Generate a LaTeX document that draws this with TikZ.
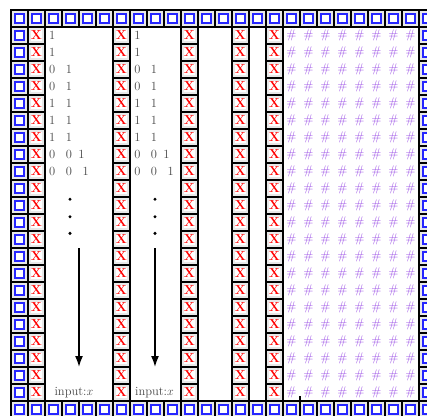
\documentclass[tikz,border=0pt]{standalone}
\usetikzlibrary{arrows.meta}
\usepackage{xcolor}
\colorlet{ringgray}{gray!18}
\colorlet{digitgray}{black!72}
\definecolor{hashpurple}{rgb}{0.6,0.3,0.9}
\definecolor{markblue}{rgb}{0.15,0.15,1}

\begin{document}
\begin{tikzpicture}[x=17pt, y=17pt,
      cell/.style   = {draw, line width=2.6pt, fill=white,
                       minimum size=17pt, inner sep=0pt, outer sep=0pt},
      ring/.style   = {cell, path picture={
                         \draw[ringgray, line width=6.2pt]
                           (path picture bounding box.south west) rectangle
                           (path picture bounding box.north east);}},
      edge/.style   = {cell, path picture={
                         \draw[ringgray, line width=6.2pt]
                           (path picture bounding box.south west) rectangle
                           (path picture bounding box.north east);
                         \draw[markblue, line width=1.4pt]
                           ([shift={(-4.4pt,-4.4pt)}]path picture bounding box.center)
                           rectangle ++(8.8pt,8.8pt);}},
      cross/.style  = {ring, text=red, font=\fontsize{13}{15}\selectfont\bfseries},
      hash/.style   = {text=hashpurple, font=\fontsize{12.5}{15}\selectfont, inner sep=0pt},
      digit/.style  = {text=digitgray, font=\fontsize{12.5}{15}\selectfont, inner sep=0pt},
      dot/.style    = {circle, fill, inner sep=0pt, minimum size=3.4pt},
      arr/.style    = {-{Latex[length=11pt, width=8pt]}, line width=1.6pt}
    ]
    \useasboundingbox (-0.647,0.588) rectangle (24.47,-23.88);

    % blank border of the tape
    \foreach \c in {0,...,24} {
      \node[edge] (top-\c) at (\c+0.5, -0.5)  {};
      \node[edge] (bot-\c) at (\c+0.5, -23.5) {};
    }
    \foreach \r in {1,...,22} {
      \node[edge] (lft-\r) at (0.5, -\r-0.5)  {};
      \node[edge] (rgt-\r) at (24.5, -\r-0.5) {};
      \foreach \c in {1,6,10,13,15}
        \node[cross] (x-\c-\r) at (\c+0.5, -\r-0.5) {X};
      \foreach \c in {16,...,23}
        \node[hash] (h-\c-\r) at (\c+0.5, -\r-0.5) {\#};
    }

    % the two input tracks
    \foreach \t in {2,7} {
      \foreach \r/\o/\s [count=\i] in {1/0.43/1, 2/0.43/1,
                 3/0.43/0, 3/1.41/1, 4/0.43/0, 4/1.41/1,
                 5/0.43/1, 5/1.41/1, 6/0.43/1, 6/1.41/1,
                 7/0.43/1, 7/1.41/1,
                 8/0.43/0, 8/1.41/0, 8/2.15/1,
                 9/0.43/0, 9/1.41/0, 9/2.40/1}
        \node[digit] (d\t-\i) at (\t+\o, -\r-0.5) {\s};
      \foreach \r [count=\i] in {11.13, 12.16, 13.14}
        \node[dot] (dot\t-\i) at (\t+1.47, -\r) {};
    }
    \node[digit] (in2) at (3.70, -22.5) {input:$x$};
    \node[digit] (in7) at (8.44, -22.5) {input:$x$};

    \coordinate (a2s) at (4.00, -14);
    \coordinate (a2e) at (4.00, -21);
    \coordinate (a7s) at (8.47, -14);
    \coordinate (a7e) at (8.47, -21);
    \draw[arr] (a2s) -- (a2e);
    \draw[arr] (a7s) -- (a7e);

    \coordinate (head) at (17, -23);
    \draw[line width=1.2pt] (head) -- ++(0, 0.32);
  \end{tikzpicture}
\end{document}
